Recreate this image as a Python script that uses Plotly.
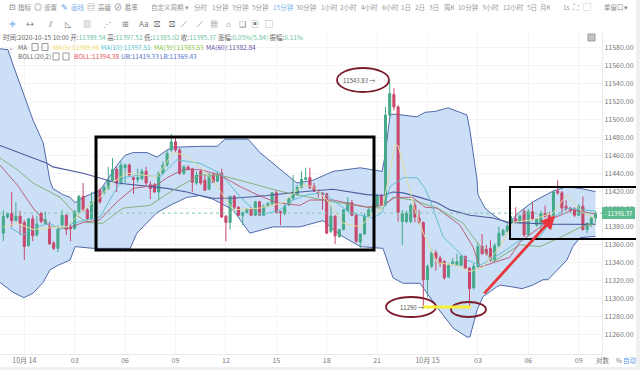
import plotly.graph_objects as go

BASE = 11000
opens = [373,391,395,387,392,385,359,389,371,395,
384,380,362,356,382,393,380,378,397,414,
399,389,392,421,418,423,432,444,429,446,
449,435,433,434,442,427,427,419,440,449,
466,475,466,440,447,445,429,442,432,422,
438,431,440,392,385,414,402,393,396,400,
393,408,393,403,406,418,397,395,405,412,
416,424,433,435,425,419,418,417,375,392,
369,377,398,407,393,363,372,392,397,403,
415,405,505,528,514,386,386,386,404,390,
385,321,336,351,345,341,324,339,337,337,
347,334,312,336,358,355,356,343,359,371,
375,385,389,385,397,371,397,382,384,395,
393,393,420,418,403,401,400,393,403,377,
382,389.54]
highs = [399,396,419,408,398,388,390,393,392,397,
397,386,364,382,399,394,384,399,416,429,
401,419,412,423,427,447,457,447,453,451,
451,436,445,445,447,431,429,442,453,466,
484,481,468,449,449,446,442,444,438,440,
441,442,445,393,415,416,403,397,401,402,
409,409,405,408,419,421,398,405,413,438,
427,442,446,446,429,422,419,418,404,393,
378,400,413,410,395,373,395,402,405,417,
417,514,543.83,535,516,399,398,406,408,399,
386,338,355,354,348,343,339,345,350,349,
348,335,339,362,372,360,365,362,380,378,
383,392,402,394,400,400,407,390,398,404,
397,421,432,420,410,402,402,405,414,385,
392,397.52]
lows = [364,389,380,386,371,343,358,364,369,384,
382,360,354,352,380,371,364,377,395,397,
387,388,390,406,416,421,431,419,427,429,
436,417,429,432,427,411,418,410,438,447,
464,464,438,438,444,419,427,427,421,421,
429,430,390,364,377,400,392,382,395,392,
392,393,392,402,403,395,382,393,403,410,
415,423,432,422,419,413,399,372,373,361,
368,376,397,392,362,356,371,391,395,402,
405,403,503,510,386,360,384,384,385,383,
291,302,334,331,335,321,323,337,336,336,
332,291,310,334,349,348,341,341,357,370,
373,383,384,383,369,370,387,380,374,390,
388,392,416,395,398,396,391,392,376,373,
380,385.02]
closes = [392,395,387,392,384,358,389,370,383,386,
388,361,356,377,393,377,378,397,414,399,
389,408,408,408,424,432,444,429,449,449,
438,433,435,442,429,423,419,440,449,462,
475,466,440,447,444,430,438,429,421,437,
430,438,391,385,414,402,393,396,400,393,
408,393,403,406,418,396,396,403,412,419,
424,433,435,424,420,418,416,373,392,370,
377,399,407,393,364,372,392,399,402,415,
405,505,529,514,396,395,395,404,391,385,
321,336,351,345,339,323,337,341,341,347,
334,311,336,358,350,350,343,359,373,376,
381,388,386,392,371,397,389,389,395,392,
390,419,418,401,400,399,393,403,377,384,
390,395.37]

upper_i = [-0.8,1.1,2.1,4,5.9,7.1,9.5,11.1,11.8,14.2,15.9,17.1,19,23,24.7,27.1,29,30.9,34.2,36.6,39,40.4,46.8,50.9,52.8,58.3,61.1,65.9,69.9,73.7,78.5,85,90.2,90.9,92.1,93,98.5,100.4,102.8,105.9,110.4,111.1,112.8,113,114.7,115.9,118.3,120.2,123,126.1,130.9,134.2,137.3,141]
upper_v = [579,578,564,539,516,499,474,432,423,416,413,407,413,421,432,449,460,463,463,458,466,469,470,470,478,478,463,444,429,432,442,446,442,460,505,506,503,508,509,513,505,488,432,416,401,396,388,384,397,408,420,425,423,419.33]
lower_i = [-0.8,0.9,2.3,4.9,7.1,9.5,11.1,13,15.9,17.1,21.4,30.2,31.8,36.6,39.7,43.7,46.8,49.9,54.7,58.7,64.2,70.6,76.1,80.2,85,90.4,92.8,95.2,99.2,103.3,107.1,110.4,111.1,112.8,114.2,117.5,118.3,121.1,123.5,126.1,128.5,129.7,134.2,135.6,137.3,141]
lower_v = [318,312,307,301,306,318,332,337,343,358,356,356,373,396,404,413,415,411,399,373,380,380,387,371,358,356,323,317,317,290,267,257,257,287,302,313,315,313,311,315,321,321,343,358,368,369.43]
mid_i = [-0.8,3.3,7.1,11.1,15.2,19,23,27.1,30.9,36.6,39,42.8,46.8,51.6,56.4,60.4,65.2,70.6,73,78.5,86.6,90.2,93.3,97.5,100.4,103.3,108.7,111.8,113.5,120.6,123,130.2,135.6,141]
mid_v = [449,427,401,380,378,385,388,408,423,427,435,444,444,438,425,416,407,404,410,410,402,404,413,413,402,401,382,358,335,346,363,388,399,394.38]
ma5_i = [0,3.3,7.1,11.1,15.2,19,23,26.1,29.5,32.5,36.6,40.4,43.3,46.8,49.9,54.7,61.1,66.6,71.4,73.7,77.1,80.9,85,88,90.2,92.1,93.3,94,96.1,98,100,103.3,108,111.1,114.2,118.3,121.4,126.1,130.9,134.2,138,141]
ma5_v = [380,384,377,379,380,399,413,430,440,438,436,463,460,447,432,399,401,407,427,425,410,384,380,396,399,444,471,471,432,399,373,340,337,330,335,358,385,388,396,416,396,389]
ma10_i = [1.6,4.7,8,11.1,13.5,16.6,19.9,23,26.1,28.5,32.5,37.3,41.3,46.8,51.6,57.1,61.1,65.9,69,72.3,76.1,78.5,82.5,88,90.2,92.1,95.2,98.5,100.4,101.6,104.7,110.4,113.5,119,123,127.8,130.9,134.2,141]
ma10_v = [379,371,380,384,377,384,388,391,416,435,438,436,455,451,440,410,393,399,410,416,418,410,396,390,396,425,435,435,423,410,369,343,337,352,365,369,390,401,397.51]
ma30_i = [-0.8,3.3,7.1,13.5,17.5,19.9,23.7,28.5,34.9,40.4,46.8,51.6,58.7,66.6,73,78.5,86.6,90.2,92.8,97.5,103.3,109.5,111.8,116.6,123,127.8,132.5,138,141]
ma30_v = [457,444,429,413,393,385,384,401,404,421,438,438,429,419,413,408,402,401,413,410,401,384,369,341,360,358,368,381,383.53]
ma60_i = [-0.8,3.3,10.4,11.8,19,27.1,30.9,39,43.7,46.8,49.9,54.7,62.8,70.6,78.5,86.6,90.2,92.8,95.2,99.2,103.3,106.4,111.1,116.6,120.6,130.9,141]
ma60_v = [471,464,451,447,440,429,427,423,419,415,412,412,415,419,422,416,415,419,418,413,407,399,393,390,385,383,382.84]

y_ticks = list(range(11260, 11581, 20))
x_tick_idx = [5,17,29,41,53,65,77,89,101,113,125,137]
x_tick_txt = ["10月 14","03","06","09","12","15","18","21","10月 15","03","06","09"]
last_close = 11395.37

P_L, P_R, P_T, P_B = 0, 602, 33, 354
def px(x): return (x - P_L) / (P_R - P_L)
def py(y): return (P_B - y) / (P_B - P_T)

idx = list(range(len(opens)))
def abs_v(v): return [BASE + a for a in v]

fig = go.Figure()
fig.add_trace(go.Scatter(x=upper_i, y=abs_v(upper_v), mode="lines", line=dict(color="#5169ad", width=1), hoverinfo="skip"))
fig.add_trace(go.Scatter(x=lower_i, y=abs_v(lower_v), mode="lines", line=dict(color="#5169ad", width=1),
                         fill="tonexty", fillcolor="#cbe0f7", hoverinfo="skip"))
fig.add_trace(go.Candlestick(x=idx, open=abs_v(opens), high=abs_v(highs), low=abs_v(lows), close=abs_v(closes),
                             xaxis="x2", yaxis="y2", whiskerwidth=0,
                             increasing=dict(line=dict(color="#45a98a", width=1), fillcolor="#45a98a"),
                             decreasing=dict(line=dict(color="#c8486c", width=1), fillcolor="#c8486c")))
for xs, ys, col, w in [(ma60_i, ma60_v, "#4f5a9e", 1.1), (ma30_i, ma30_v, "#86b07c", 1),
                       (mid_i, mid_v, "#b9607c", 1), (ma10_i, ma10_v, "#62bfd0", 1),
                       (ma5_i, ma5_v, "#e3dc9a", 1)]:
    fig.add_trace(go.Scatter(x=xs, y=abs_v(ys), mode="lines", xaxis="x2", yaxis="y2",
                             line=dict(color=col, width=w), hoverinfo="skip"))

x_rng = [(P_L - 3.3) / 4.2, (P_R - 3.3) / 4.2]
y_rng = [11238.0, 11596.6]

shapes = []
def rect(x0, y0, x1, y1, color, w, fill=None, layer="above"):
    shapes.append(dict(type="rect", xref="paper", yref="paper", x0=px(x0), x1=px(x1), y0=py(y0), y1=py(y1),
                       line=dict(color=color, width=w), fillcolor=fill, layer=layer))
def ell(x0, y0, x1, y1):
    shapes.append(dict(type="circle", xref="paper", yref="paper", x0=px(x0), x1=px(x1), y0=py(y0), y1=py(y1),
                       line=dict(color="#7a1a2a", width=1.8), layer="above"))

shapes.append(dict(type="line", xref="paper", yref="y", x0=0, x1=1, y0=last_close, y1=last_close,
                   line=dict(color="#7fcba8", width=1, dash="dot"), layer="above"))
rect(96, 137, 374, 250, "black", 3)
rect(510, 187, 637, 239, "black", 2)
ell(337, 68, 389, 92)
ell(386, 297, 436, 317)
ell(451, 302, 486, 317)
shapes.append(dict(type="line", xref="paper", yref="paper", x0=px(423), x1=px(471), y0=py(307), y1=py(307),
                   line=dict(color="#f5ee3a", width=3), layer="above"))
rect(636, 0, 640, 370, "#f0f0f0", 0, "#f0f0f0")
rect(0, 367, 640, 370, "#f0f0f0", 0, "#f0f0f0")
rect(588, 34, 595, 41, "#9a9a9a", 1, "#c4c4c4")

F = "Noto Sans CJK SC"
ann = []
def t(x, y, s, color="#8a8a8a", size=6.5, anchor="left"):
    ann.append(dict(xref="paper", yref="paper", x=px(x), y=py(y), text=s, showarrow=False, xanchor=anchor,
                    yanchor="middle", font=dict(family=F, size=size, color=color), borderpad=0))

for x, s, c in [(17,"指标","#888"),(43,"设置","#888"),(70,"画线","#7aaef0"),(97,"高级","#888"),(124,"胜率","#888"),
                (150,"自定义周期 ▾","#9a9a9a"),(193,"分时","#999"),(211,"1分钟","#999"),(231,"3分钟","#999"),
                (251,"5分钟","#999"),(272,"15分钟","#7aaef0"),(295,"30分钟","#999"),(320,"1小时","#999"),
                (339,"2小时","#999"),(360,"4小时","#999"),(381,"6小时","#999"),(400,"1日","#999"),(414,"2日","#999"),
                (428,"3日","#999"),(443,"周K","#999"),(457,"10分钟","#999"),(481,"3小时","#999"),(502,"12小时","#999"),
                (526,"5日","#999"),(539,"月K","#999"),(562,"1s","#999"),(603,"单窗口▾","#888")]:
    t(x, 7, s, c)
for x, s, c in [(12,"⊡","#777"),(38,"◎","#777"),(64,"✎","#5a9be8"),(91,"▤","#777"),(118,"⊘","#777"),
                (575,"⛶","#999"),(587,"▢","#999")]:
    t(x, 7, s, c, 8, "center")
for x, s, c in [(12,"✛","#5a9be8"),(30,"↔","#777"),(50,"⫽","#777"),(68,"◺","#777"),(87,"▥","#777"),(107,"⋰","#777"),
                (125,"⊞","#777"),(144,"Aa","#777"),(157,"⛝","#777"),(172,"⛝","#777"),(184,"⟋","#777"),
                (200,"⟋","#777"),(214,"▦","#777"),(228,"⌂","#777"),(242,"❏","#777"),(255,"▣","#777"),(269,"▢","#777")]:
    t(x, 23, s, c, 8, "center")

def sp(c, s): return f'<span style="color:{c}">{s}</span>'
G = "#6fc3a0"
t(2, 37, "时间:2020-10-15 10:00 开:" + sp(G,"11389.54") + " 高:" + sp(G,"11397.52") + " 低:" + sp(G,"11385.02")
  + " 收:" + sp(G,"11395.37") + " 涨幅:" + sp(G,"0.05%(5.84)") + " 振幅:" + sp(G,"0.11%"), "#666", 6.5)
t(7, 47, "⌄", "#888")
t(17, 47, "MA", "#666")
rect(32, 43.5, 38, 50.5, "#999", 1); rect(42, 43.5, 48, 50.5, "#999", 1)
t(52, 47, "MA(5):11389.06", "#f4dd6a")
t(100, 47, "MA(10):11397.51", "#55c6d6")
t(153, 47, "MA(30):11383.53", "#8cc63f")
t(205, 47, "MA(60):11382.84", "#6a4fa3")
t(17, 56.5, "BOLL(20,2)", "#666")
rect(53, 53, 59, 60, "#999", 1); rect(63, 53, 69, 60, "#999", 1)
t(73, 56.5, "BOLL:11394.38", "#e0505a")
t(120, 56.5, "UB:11419.33", "#4f74c8")
t(159, 56.5, "LB:11369.43", "#4f74c8")

t(342, 80, "11543.83 →", "#555", 6)
t(399, 307, "11290 →", "#555", 6)
t(595, 360, "对数", "#777"); t(615, 360, "%", "#777"); t(622, 360, "自动", "#5a9be8")

rect(602, 207, 635, 219, "#5cbb8e", 0, "#5cbb8e")
t(603, 213, "- 11395.37", "white", 6)

ann.append(dict(xref="x2", yref="y2", axref="x2", ayref="y2", x=131.4, y=11393, ax=114.2, ay=11304, text="",
                showarrow=True, arrowhead=2, arrowsize=1, arrowwidth=2.8, arrowcolor="#e8363a"))

grid = "#f4f4f4"
fig.update_layout(
    width=640, height=370, margin=dict(l=0, r=38, t=33, b=16), showlegend=False,
    paper_bgcolor="white", plot_bgcolor="white", boxgap=0.3,
    xaxis=dict(range=x_rng, tickvals=x_tick_idx, ticktext=x_tick_txt, showgrid=True, gridcolor=grid, zeroline=False,
               tickfont=dict(family=F, size=7, color="#777"), ticks="", showline=True, linecolor="#eaeaea",
               rangeslider=dict(visible=False), ticklen=0),
    yaxis=dict(range=y_rng, side="right", tickvals=y_ticks, tickformat=".2f", showgrid=True, gridcolor=grid, zeroline=False,
               tickfont=dict(family=F, size=7, color="#777"), ticks="", showline=True, linecolor="#eaeaea"),
    xaxis2=dict(range=x_rng, overlaying="x", visible=False, rangeslider=dict(visible=False)),
    yaxis2=dict(range=y_rng, overlaying="y", visible=False, side="right"),
    shapes=shapes, annotations=ann,
)
fig.write_html("out.html", config=dict(displayModeBar=False), post_script="document.body.style.margin='0';")
